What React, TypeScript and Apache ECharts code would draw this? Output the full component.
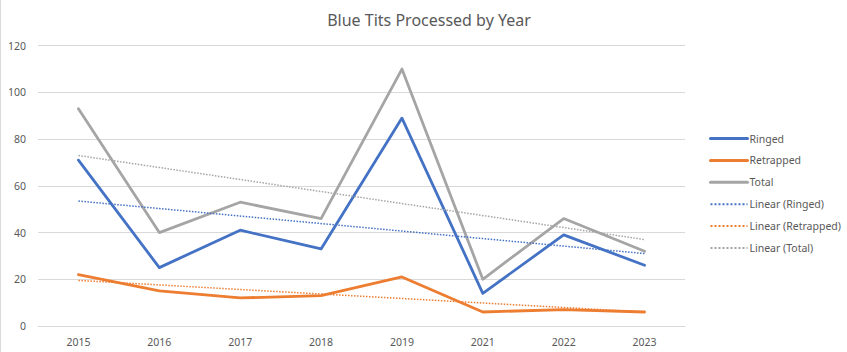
import React, { useEffect, useRef } from "react";
import * as echarts from "echarts";

const years = ["2015", "2016", "2017", "2018", "2019", "2021", "2022", "2023"];
const ringed = [71, 25, 41, 33, 89, 14, 39, 26];
const retrapped = [22, 15, 12, 13, 21, 6, 7, 6];
const total = [93, 40, 53, 46, 110, 20, 46, 32];
// linear trendline endpoints (first and last category)
const trendRinged = [53.5, null, null, null, null, null, null, 31.0];
const trendRetrapped = [19.5, null, null, null, null, null, null, 6.0];
const trendTotal = [73.0, null, null, null, null, null, null, 37.0];

const BLUE = "#4472C4";
const ORANGE = "#ED7D31";
const GREY = "#A5A5A5";
const FONT = "'Noto Sans', 'Open Sans', sans-serif";

export default function App() {
  const ref = useRef<HTMLDivElement>(null);
  useEffect(() => {
    if (!ref.current) return;
    const chart = echarts.init(ref.current, null, { renderer: "svg" });
    const solid = (name: string, data: number[], color: string) => ({
      name,
      type: "line",
      data,
      symbol: "none",
      lineStyle: { color, width: 2.8, cap: "round", join: "round" },
      itemStyle: { color },
    });
    const trend = (name: string, data: (number | null)[], color: string) => ({
      name,
      type: "line",
      data,
      connectNulls: true,
      symbol: "none",
      lineStyle: { color, width: 1.5, type: [1.5, 1.5] },
      itemStyle: { color },
    });
    const hidden = { opacity: 0, borderWidth: 0 };
    chart.setOption({
      animation: false,
      backgroundColor: "#ffffff",
      textStyle: { fontFamily: FONT },
      title: {
        text: "Blue Tits Processed by Year",
        left: 424,
        textAlign: "center",
        top: 7,
        textStyle: { fontFamily: FONT, fontSize: 16, fontWeight: "normal", color: "#595959" },
      },
      legend: {
        orient: "vertical",
        left: 704,
        top: 128,
        itemWidth: 37,
        itemHeight: 12,
        itemGap: 10.9,
        textStyle: { fontFamily: FONT, fontSize: 10.5, color: "#595959", padding: [0, 0, 0, -3] },
        data: [
          { name: "Ringed", itemStyle: hidden, lineStyle: { width: 3, type: "solid" } },
          { name: "Retrapped", itemStyle: hidden, lineStyle: { width: 3, type: "solid" } },
          { name: "Total", itemStyle: hidden, lineStyle: { width: 3, type: "solid" } },
          { name: "Linear (Ringed)", itemStyle: hidden, lineStyle: { width: 2, type: [2, 2] } },
          { name: "Linear (Retrapped)", itemStyle: hidden, lineStyle: { width: 2, type: [2, 2] } },
          { name: "Linear (Total)", itemStyle: hidden, lineStyle: { width: 2, type: [2, 2] } },
        ],
      },
      grid: { left: 38, right: 162, top: 45.7, bottom: 26, containLabel: false },
      xAxis: {
        type: "category",
        data: years,
        boundaryGap: true,
        axisLine: { show: true, lineStyle: { color: "#D9D9D9", width: 1 } },
        axisTick: { show: false },
        axisLabel: { color: "#595959", fontSize: 10.5, fontFamily: FONT, margin: 10 },
      },
      yAxis: {
        type: "value",
        min: 0,
        max: 120,
        interval: 20,
        axisLine: { show: false },
        axisTick: { show: false },
        splitLine: { lineStyle: { color: "#D9D9D9", width: 1 } },
        axisLabel: { color: "#595959", fontSize: 10.5, fontFamily: FONT, margin: 12 },
      },
      graphic: [
        { type: "line", shape: { x1: 0.5, y1: 0, x2: 0.5, y2: 352 }, style: { stroke: "#D9D9D9", lineWidth: 1 } },
      ],
      series: [
        solid("Ringed", ringed, BLUE),
        solid("Retrapped", retrapped, ORANGE),
        solid("Total", total, GREY),
        trend("Linear (Ringed)", trendRinged, BLUE),
        trend("Linear (Retrapped)", trendRetrapped, ORANGE),
        trend("Linear (Total)", trendTotal, GREY),
      ],
    });
    return () => chart.dispose();
  }, []);
  return (
    <div
      ref={ref}
      style={{ position: "fixed", left: 0, top: 0, width: 847, height: 352 }}
    />
  );
}
